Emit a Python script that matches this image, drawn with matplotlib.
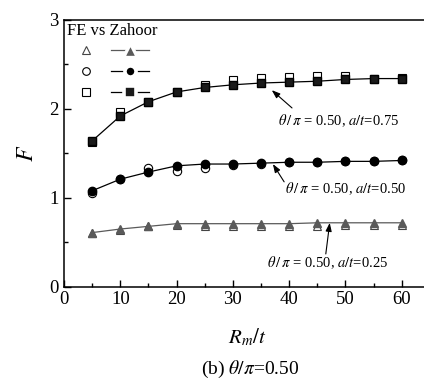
import matplotlib
matplotlib.use('Agg')
import matplotlib.pyplot as plt
from matplotlib.lines import Line2D

plt.rcParams['font.family'] = 'serif'
plt.rcParams['font.serif'] = ['Liberation Serif', 'DejaVu Serif']
plt.rcParams['mathtext.fontset'] = 'stix'

# R_m/t values
rt = [5, 10, 15, 20, 25, 30, 35, 40, 45, 50, 55, 60]

# a/t = 0.25
fe_25 = [0.60, 0.64, 0.68, 0.70, 0.68, 0.68, 0.68, 0.68, 0.68, 0.69, 0.69, 0.70]
zh_25 = [0.61, 0.65, 0.68, 0.71, 0.71, 0.71, 0.71, 0.71, 0.72, 0.72, 0.72, 0.72]
# a/t = 0.50
fe_50 = [1.05, 1.21, 1.33, 1.30, 1.34, 1.37, 1.38, 1.40, 1.40, 1.41, 1.41, 1.42]
zh_50 = [1.08, 1.21, 1.29, 1.36, 1.38, 1.38, 1.39, 1.40, 1.40, 1.41, 1.41, 1.42]
# a/t = 0.75
fe_75 = [1.63, 1.97, 2.08, 2.19, 2.27, 2.32, 2.35, 2.36, 2.37, 2.37, 2.34, 2.35]
zh_75 = [1.64, 1.92, 2.08, 2.19, 2.24, 2.27, 2.29, 2.30, 2.31, 2.33, 2.34, 2.34]

labels = [r'$\theta\,/\,\pi$ = 0.50, $a/t$=0.75',
          r'$\theta\,/\,\pi$ = 0.50, $a/t$=0.50',
          r'$\theta\,/\,\pi$ = 0.50, $a/t$=0.25']
# (text x, text y, arrow tail x, tail y, head x, head y)
notes = [(48.8, 1.865, 40.5, 2.01, 36.9, 2.21),
         (50.0, 1.10, 39.1, 1.18, 37.1, 1.38),
         (46.9, 0.27, 46.5, 0.37, 47.2, 0.72)]

fig = plt.figure(figsize=(4.24, 3.81), dpi=100)
ax = fig.add_axes([0.151, 0.247, 0.863, 0.701])

grey = '#5a5a5a'
ms = 6

# FE (open markers) drawn first
ax.plot(rt, fe_25, ls='none', marker='^', ms=ms, mfc='white', mec='#444444', mew=0.8)
ax.plot(rt, fe_50, ls='none', marker='o', ms=ms, mfc='white', mec='black', mew=0.8)
ax.plot(rt, fe_75, ls='none', marker='s', ms=ms - 0.5, mfc='white', mec='black', mew=0.8)

# Zahoor (line + filled markers)
ax.plot(rt, zh_25, color=grey, lw=0.9, marker='^', ms=ms, mfc=grey, mec=grey)
ax.plot(rt, zh_50, color='black', lw=0.9, marker='o', ms=ms, mfc='black', mec='black')
ax.plot(rt, zh_75, color='black', lw=0.9, marker='s', ms=ms - 0.5, mfc='#1a1a1a', mec='black')

for lab, (tx, ty, ax0, ay0, hx, hy) in zip(labels, notes):
    ax.text(tx, ty, lab, fontsize=10.5, ha='center', va='center')
    ax.annotate('', xy=(hx, hy), xytext=(ax0, ay0),
                arrowprops=dict(arrowstyle='-|>,head_length=0.5,head_width=0.18',
                                color='black', lw=0.8, shrinkA=0, shrinkB=0))

# legend handles: open FE markers, and Zahoor line with a gap round the marker
lm = 5.5
handles = [
    Line2D([], [], ls='none', marker='^', ms=lm, mfc='white', mec='#444444', mew=0.8),
    Line2D([], [], ls='none', marker='o', ms=lm, mfc='white', mec='black', mew=0.8),
    Line2D([], [], ls='none', marker='s', ms=lm - 0.3, mfc='white', mec='black', mew=0.8),
    Line2D([], [], color=grey, lw=0.9, marker='^', ms=lm + 4.5, mfc=grey, mec='white', mew=2.4),
    Line2D([], [], color='black', lw=0.9, marker='o', ms=lm + 2.5, mfc='black', mec='white', mew=2.6),
    Line2D([], [], color='black', lw=0.9, marker='s', ms=lm + 2.5, mfc='#1a1a1a', mec='white', mew=2.6),
]
ax.legend(handles, [''] * 6, ncol=2, loc='upper left',
          title='FE vs Zahoor', title_fontsize=12, fontsize=12, frameon=False,
          alignment='left', handlelength=2.3, handletextpad=0.2, columnspacing=0.15,
          labelspacing=0.3, borderaxespad=0.05, borderpad=0.12)

ax.set_xlim(0, 65)
ax.set_ylim(0, 3)
ax.set_xticks([0, 10, 20, 30, 40, 50, 60])
ax.set_xticks(range(5, 65, 10), minor=True)
ax.set_yticks([0, 1, 2, 3])
ax.set_yticks([0.5, 1.5, 2.5], minor=True)
ax.tick_params(which='both', direction='in', labelsize=13.5, width=1.0)
ax.tick_params(which='major', length=5)
ax.tick_params(which='minor', length=3)
ax.tick_params(axis='x', pad=3)
ax.tick_params(axis='y', pad=4)
for sp in ax.spines.values():
    sp.set_linewidth(1.1)
ax.spines['right'].set_visible(False)

ax.set_ylabel(r'$F$', fontsize=17, labelpad=8)
ax.set_xlabel(r'$R_m/t$', fontsize=15, labelpad=13)
fig.text(0.59, 0.03, r'(b) $\theta/\pi$=0.50', fontsize=14, ha='center', va='center')

fig.savefig('out.png', dpi=100)
